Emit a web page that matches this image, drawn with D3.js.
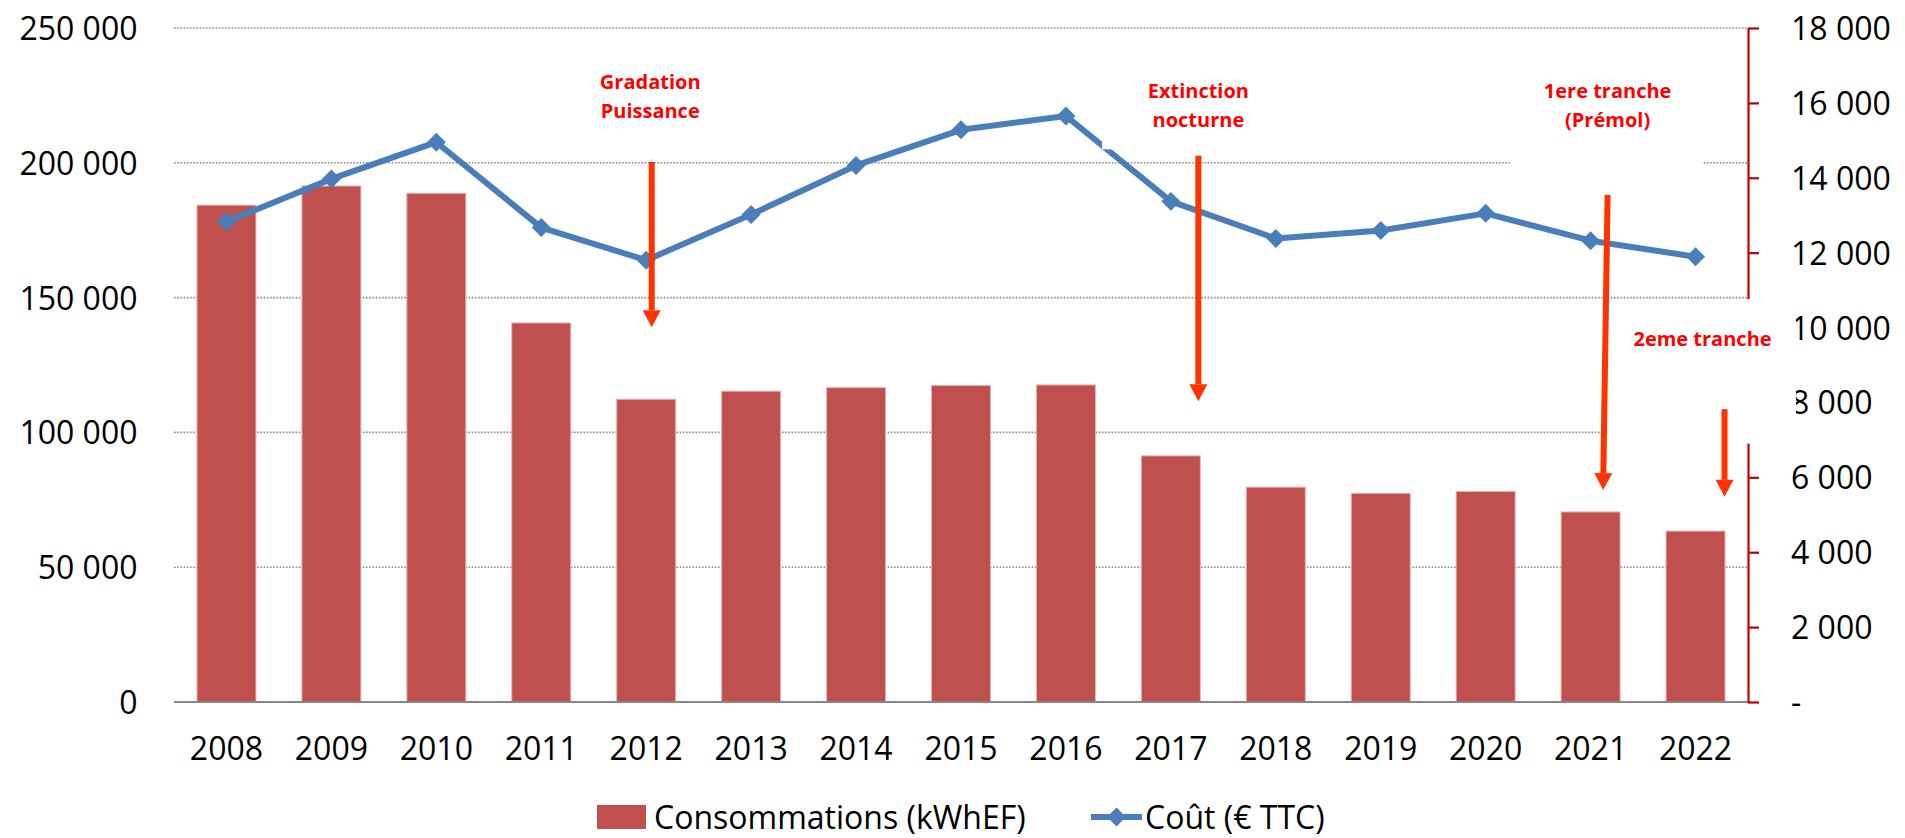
<!DOCTYPE html>
<html>
<head>
<meta charset="utf-8">
<script src="https://cdn.jsdelivr.net/npm/d3@7"></script>
<style>
  html, body { margin: 0; padding: 0; background: #fff; }
  svg { display: block; font-family: "Open Sans", "Noto Sans", sans-serif; }
</style>
</head>
<body>
<svg id="chart" width="1905" height="838"></svg>
<script>
// ---- data ----
const years = ["2008","2009","2010","2011","2012","2013","2014","2015","2016","2017","2018","2019","2020","2021","2022"];
const consommations = [184300,191400,188700,140600,112300,115300,116600,117400,117600,91300,79700,77400,78100,70500,63400];
const cout = [12830,13970,14950,12670,11800,13020,14330,15280,15650,13370,12380,12590,13050,12320,11890];
const leftTicks = [0,50000,100000,150000,200000,250000];
const rightTicks = [0,2000,4000,6000,8000,10000,12000,14000,16000,18000];
const seriesNames = ["Consommations (kWhEF)", "Coût (€ TTC)"];
// annotations: text + arrow anchored on categories (arrow ends in left-axis units)
const annotationLabels = [["Gradation","Puissance"],["Extinction","nocturne"],["1ere tranche","(Prémol)"],["2eme tranche"]];
const annotationYears = ["2012","2017","2021","2022"];
const arrowFrom = [200300, 202600, 188100, 108600];
const arrowTo   = [139000, 111600, 78600, 76100];

// ---- layout ----
const plot = {left: 174, right: 1748, top: 28, bottom: 702};
const svg = d3.select("#chart");

const x = d3.scaleBand().domain(years).range([plot.left, plot.right])
  .paddingInner(0.4377).paddingOuter(0.21885);
const yL = d3.scaleLinear().domain([0, 250000]).range([plot.bottom, plot.top]);
const yR = d3.scaleLinear().domain([0, 18000]).range([plot.bottom, plot.top]);
const loc = d3.formatLocale({decimal: ",", thousands: " ", grouping: [3], currency: ["", " €"]});
const fmt = loc.format(",");

const barColor = "#C0504D", lineColor = "#4A7EBB", axisRed = "#C00000";
const annoColor = "#FF0000", arrowColor = "#FF3300";

// gridlines
svg.append("g").selectAll("line").data(leftTicks.filter(d => d > 0)).join("line")
  .attr("x1", plot.left).attr("x2", plot.right)
  .attr("y1", d => yL(d)).attr("y2", d => yL(d))
  .attr("stroke", "#8a8a8a").attr("stroke-width", 1.6).attr("stroke-dasharray", "1.6,1.6");

// bars
svg.append("g").selectAll("rect").data(years).join("rect")
  .attr("x", d => x(d)).attr("width", x.bandwidth())
  .attr("y", (d, i) => yL(consommations[i]))
  .attr("height", (d, i) => yL(0) - yL(consommations[i]))
  .attr("fill", barColor).attr("stroke", "#e8b4b3").attr("stroke-width", 1);

// x axis line
svg.append("line").attr("x1", plot.left).attr("x2", plot.right)
  .attr("y1", yL(0)).attr("y2", yL(0)).attr("stroke", "#868686").attr("stroke-width", 2.2);

// left axis labels
const gl = svg.append("g").attr("transform", `translate(${plot.left},0)`)
  .call(d3.axisLeft(yL).tickValues(leftTicks).tickSize(0).tickPadding(36.5).tickFormat(fmt));
gl.select(".domain").remove();
gl.selectAll("text").attr("font-size", 32).attr("font-family", "Open Sans").attr("fill", "#000").attr("dy", "0.36em");

// bottom axis labels
const gb = svg.append("g").attr("transform", `translate(0,${plot.bottom})`)
  .call(d3.axisBottom(x).tickSize(0).tickPadding(35));
gb.select(".domain").remove();
gb.selectAll("text").attr("font-size", 32).attr("font-family", "Open Sans").attr("fill", "#000");

// line series
const pts = years.map((d, i) => [x(d) + x.bandwidth() / 2, yR(cout[i])]);
svg.append("path").datum(pts).attr("d", d3.line())
  .attr("fill", "none").attr("stroke", lineColor).attr("stroke-width", 6).attr("stroke-linejoin", "round");
const diamond = d3.symbol().type(d3.symbolSquare).size(180);
svg.append("g").selectAll("path").data(pts).join("path")
  .attr("d", diamond).attr("transform", d => `translate(${d[0]},${d[1]}) rotate(45)`)
  .attr("fill", lineColor);

// right axis
const gr = svg.append("g").attr("transform", `translate(${plot.right},0)`)
  .call(d3.axisRight(yR).tickValues(rightTicks).tickSize(11).tickSizeOuter(0).tickPadding(32)
    .tickFormat(d => d === 0 ? "-" : fmt(d)));
gr.select(".domain").attr("stroke", axisRed).attr("stroke-width", 2.2);
gr.selectAll(".tick line").attr("stroke", axisRed).attr("stroke-width", 2.2);
gr.selectAll("text").attr("font-size", 32).attr("font-family", "Open Sans").attr("fill", "#000").attr("dy", "0.36em");

// annotation text boxes (white-filled, covering parts of the chart like the original)
const bw = x.step();
const boxes = [
  {x0: x("2017") - bw * 0.375, x1: x("2018") + bw * 0.6, y0: 230000, y1: 205000},
  {x0: x("2020") + bw * 0.52, x1: x("2022") + bw * 0.345, y0: 230000, y1: 192000},
  {x0: x("2021") + bw * 0.447, x1: plot.right + 48, y0: 10760, y1: 6900, right: true}
];
boxes.forEach(b => {
  const yy0 = b.right ? yR(b.y0) : yL(b.y0), yy1 = b.right ? yR(b.y1) : yL(b.y1);
  svg.append("rect").attr("x", b.x0).attr("y", yy0).attr("width", b.x1 - b.x0).attr("height", yy1 - yy0)
    .attr("fill", "#fff");
});

// annotation labels
const labelCenters = [
  {x: x("2012") + x.bandwidth() / 2 + 4, ys: [229900, 219200]},
  {x: x("2017") + x.bandwidth() / 2 + 27.5, ys: [226600, 216000]},
  {x: x("2021") + x.bandwidth() / 2 + 17, ys: [226600, 216000]},
  {x: x("2022") + x.bandwidth() / 2 + 7, ys: [134800]}
];
annotationLabels.forEach((lines, k) => {
  lines.forEach((t, j) => {
    svg.append("text").attr("x", labelCenters[k].x).attr("y", yL(labelCenters[k].ys[j]))
      .attr("dy", "0.36em").attr("text-anchor", "middle")
      .attr("font-family", "Open Sans").attr("font-weight", 700).attr("font-size", 20)
      .attr("fill", annoColor).text(t);
  });
});

// arrows
const arrowDx = [[5.5, 5.5], [27.5, 27.5], [17, 12.5], [29, 29]];
annotationYears.forEach((yr, k) => {
  const cx = x(yr) + x.bandwidth() / 2;
  const xa = cx + arrowDx[k][0], xb = cx + arrowDx[k][1];
  const ya = yL(arrowFrom[k]), yb = yL(arrowTo[k]);
  const ang = Math.atan2(yb - ya, xb - xa);
  const headL = 17, headW = 9;
  const bx = xb - headL * Math.cos(ang), by = yb - headL * Math.sin(ang);
  svg.append("line").attr("x1", xa).attr("y1", ya).attr("x2", bx).attr("y2", by)
    .attr("stroke", arrowColor).attr("stroke-width", 6);
  const px = -Math.sin(ang), py = Math.cos(ang);
  svg.append("path")
    .attr("d", `M${xb},${yb}L${bx + px * headW},${by + py * headW}L${bx - px * headW},${by - py * headW}Z`)
    .attr("fill", arrowColor);
});

// legend
const lg = svg.append("g");
lg.append("rect").attr("x", 597).attr("y", 805).attr("width", 49).attr("height", 24).attr("fill", barColor);
lg.append("text").attr("x", 654).attr("y", 817).attr("dy", "0.36em").attr("font-size", 32)
  .attr("font-family", "Open Sans").attr("fill", "#000").text(seriesNames[0]);
lg.append("line").attr("x1", 1091).attr("x2", 1142).attr("y1", 817).attr("y2", 817)
  .attr("stroke", lineColor).attr("stroke-width", 6);
lg.append("path").attr("d", diamond).attr("transform", "translate(1116.5,817) rotate(45)").attr("fill", lineColor);
lg.append("text").attr("x", 1145).attr("y", 817).attr("dy", "0.36em").attr("font-size", 32)
  .attr("font-family", "Open Sans").attr("fill", "#000").text(seriesNames[1]);
</script>
</body>
</html>
